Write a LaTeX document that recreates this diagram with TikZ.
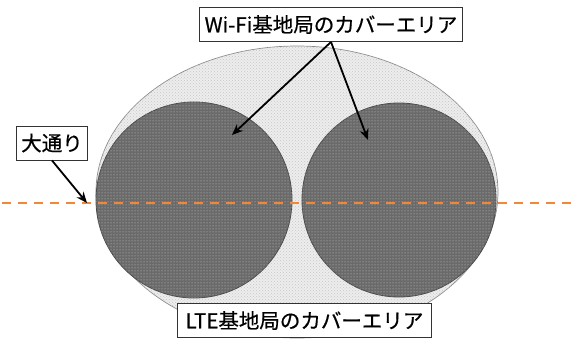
\documentclass[tikz,border=0pt]{standalone}
\usepackage{fontspec}
\newfontfamily\jp[FakeBold=0.6]{Noto Sans CJK JP}
\usetikzlibrary{patterns,arrows.meta}
\definecolor{roadorange}{HTML}{F0883A}
\definecolor{darkfill}{HTML}{6A6A6A}
\definecolor{lightfill}{HTML}{EDEDED}
\tikzset{
  lbl/.style={draw=black!80, line width=0.9pt, fill=white, font=\jp\fontsize{20.5pt}{22pt}\selectfont,
    inner xsep=5pt, inner ysep=0pt, minimum height=34pt},
  ptr/.style={line width=1.8pt, -{Stealth[length=11pt,width=9pt]}},
  wifiarea/.style={draw=black!70, line width=0.8pt, fill=darkfill,
    postaction={pattern=dots, pattern color=white!80!black}},
  lteArea/.style={draw=black!45, line width=0.7pt, fill=lightfill,
    postaction={pattern=crosshatch dots, pattern color=black!22}},
  road/.style={roadorange, line width=2pt, dash pattern=on 9pt off 7pt}
}
\begin{document}
\begin{tikzpicture}[x=1pt,y=-1pt]
\useasboundingbox (0,0) rectangle (574,340);
% LTE coverage
\draw[lteArea] (297,192) ellipse [x radius=201, y radius=146];
% Wi-Fi coverages
\draw[wifiarea] (194,200) circle [radius=98];
\draw[wifiarea] (399,200) circle [radius=97];
% road
\coordinate (roadL) at (2,203);
\coordinate (roadR) at (574,203);
\draw[road] (roadL) -- (roadR);
% labels
\node[lbl] (wifi) at (331,24.5) {Wi-Fi基地局のカバーエリア};
\node[lbl, inner xsep=8pt] (lte) at (304.5,320.5) {LTE基地局のカバーエリア};
\node[lbl] (street) at (52,143) {大通り};
% arrow targets
\coordinate (tl) at (232,135);
\coordinate (tr) at (368,140);
\coordinate (ts) at (87,203);
\draw[ptr] (wifi.south) -- (tl);
\draw[ptr] (wifi.south) -- (tr);
\draw[ptr] (street.south) -- (ts);
\end{tikzpicture}
\end{document}
